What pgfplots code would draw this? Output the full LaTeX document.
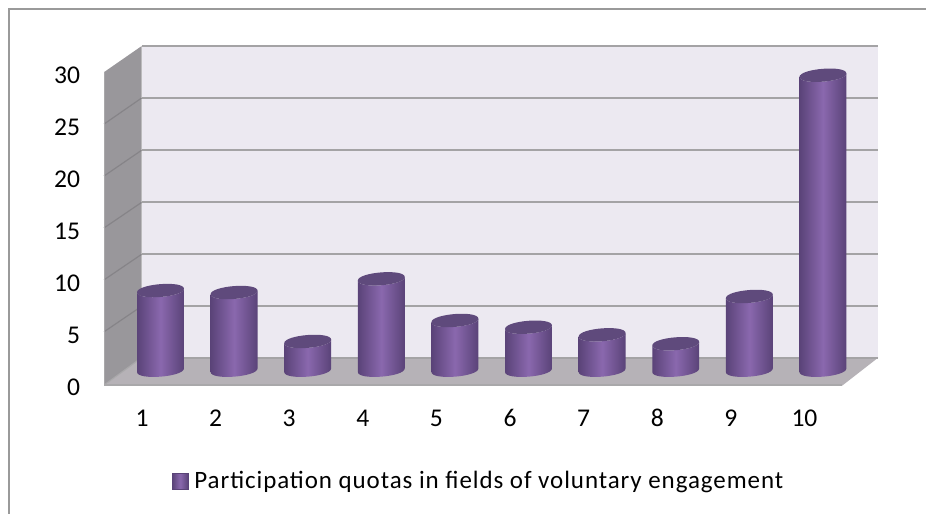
\documentclass[border=0pt]{standalone}
\usepackage{pgfplots}
\pgfplotsset{compat=1.18}
\usepackage{fontspec}
\setmainfont{Carlito}
\newfontfamily\spaced[LetterSpace=3.75]{Carlito}
\definecolor{wall}{HTML}{ECE9F1}
\definecolor{side}{HTML}{99979B}
\definecolor{sidegrid}{HTML}{868488}
\definecolor{floorc}{HTML}{B6B2B7}
\definecolor{gridc}{HTML}{A4A3A5}
\definecolor{lip}{HTML}{A9A8AA}
\definecolor{frame}{HTML}{9A9A9A}
\definecolor{bardark}{HTML}{5A4378}
\definecolor{barmid}{HTML}{8A68AE}
\definecolor{barcap}{HTML}{5F4A7C}
% cylinder: origin at the centre of the top face, height from the value
\pgfdeclareplotmark{cyl}{%
  \pgfmathsetmacro\hh{\val*5.2}%
  \def\aa{11.75}\def\dd{0.9}\def\bb{4.3}%
  \path[draw=none,left color=bardark,right color=bardark,middle color=barmid]
    (-\aa pt,-\dd pt) -- (-\aa pt,-\dd pt-\hh pt)
    .. controls (-\aa pt,-\dd pt-\hh pt-\bb pt) and (\aa pt,\dd pt-\hh pt-\bb pt) .. (\aa pt,\dd pt-\hh pt)
    -- (\aa pt,\dd pt)
    .. controls (\aa pt,\dd pt-\bb pt) and (-\aa pt,-\dd pt-\bb pt) .. (-\aa pt,-\dd pt) -- cycle;
  \path[draw=none,fill=barcap]
    (-\aa pt,-\dd pt)
    .. controls (-\aa pt,-\dd pt+\bb pt) and (\aa pt,\dd pt+\bb pt) .. (\aa pt,\dd pt)
    .. controls (\aa pt,\dd pt-\bb pt) and (-\aa pt,-\dd pt-\bb pt) .. (-\aa pt,-\dd pt) -- cycle;
}
\pgfplotstableread{
x v
1 7.67
2 7.48
3 2.77
4 8.80
5 4.79
6 4.14
7 3.41
8 2.55
9 7.10
10 28.40
}\quotas
\begin{document}
\begin{tikzpicture}
% background scenery, in reference pixels
\begin{axis}[at={(0,0)},anchor=south west,width=463.5pt,height=257pt,scale only axis,
  xmin=0,xmax=927,ymin=0,ymax=514,y dir=reverse,hide axis,clip=false]
\addplot[draw=none,fill=white] coordinates {(0,0)(927,0)(927,514)(0,514)};
\addplot[frame,line width=1pt] coordinates {(9,514)(9,9)(927,9)};
\addplot[draw=none,fill=wall] coordinates {(141.5,46)(879,46)(879,358)(141.5,358)};
\addplot[draw=none,fill=side] coordinates {(104,72)(141.5,46)(141.5,358)(104,386)};
\addplot[draw=none,fill=floorc] coordinates {(141.5,358)(879,358)(843,386)(104,386)};
\addplot[gridc,line width=1pt] coordinates {(141.5,46)(879,46)};
\addplot[gridc,line width=1pt] coordinates {(141.5,98)(879,98)};
\addplot[gridc,line width=1pt] coordinates {(141.5,150.3)(879,150.3)};
\addplot[gridc,line width=1pt] coordinates {(141.5,202.5)(879,202.5)};
\addplot[gridc,line width=1pt] coordinates {(141.5,254.5)(879,254.5)};
\addplot[gridc,line width=1pt] coordinates {(141.5,306.5)(879,306.5)};
\addplot[gridc,line width=1pt] coordinates {(141.5,358)(879,358)};
\addplot[sidegrid,line width=.6pt] coordinates {(104,124)(141.5,98)};
\addplot[sidegrid,line width=.6pt] coordinates {(104,176)(141.5,150.3)};
\addplot[sidegrid,line width=.6pt] coordinates {(104,228)(141.5,202.5)};
\addplot[sidegrid,line width=.6pt] coordinates {(104,280)(141.5,254.5)};
\addplot[sidegrid,line width=.6pt] coordinates {(104,332)(141.5,306.5)};
\addplot[lip,line width=.8pt] coordinates {(104.5,72)(104.5,385)(843,385)};
\addplot[lip,line width=.6pt] coordinates {(104.5,385)(141.5,358)};
\end{axis}
% data axis: x = 1..10 at 160.5 + 73.7(i-1) px, y = 0 at 370.5 px, 10.4 px per unit
\begin{axis}[at={(0,0)},anchor=south west,width=463.5pt,height=257pt,scale only axis,
  xmin=-1.1777,xmax=11.4003,ymin=-13.798,ymax=35.625,clip=false,
  axis line style={draw=none},major tick length=0pt,
  xtick={1,2,3,4,5,6,7,8,9,10},ytick={0,5,10,15,20,25,30},
  /pgf/number format/assume math mode=true,
  tick label style={font=\fontsize{12.8pt}{15pt}\selectfont,black,text height=8pt,text depth=0pt},
  xticklabel style={anchor=center,xshift=-9.25pt,yshift=47.5pt},
  yticklabel style={anchor=east,xshift=43.5pt,yshift=-8.5pt},
  legend style={at={(0.5178,0.0625)},anchor=center,draw=none,fill=none,
    font=\fontsize{12.5pt}{15pt}\spaced,
    legend cell align=left,inner sep=0pt,/tikz/every odd column/.append style={column sep=1pt}},
  legend image code/.code={\path[left color=bardark,right color=bardark,middle color=barmid,draw=bardark,line width=.3pt]
     (-.1pt,-4pt) rectangle (7.9pt,4pt);}]
\addplot[scatter,only marks,mark=cyl,
  visualization depends on={rawy \as \val},
  scatter/@pre marker code/.code={},scatter/@post marker code/.code={}]
  table[x=x,y=v] {\quotas};
\addlegendentry{Participation quotas in fields of voluntary engagement}
\end{axis}
\end{tikzpicture}
\end{document}
